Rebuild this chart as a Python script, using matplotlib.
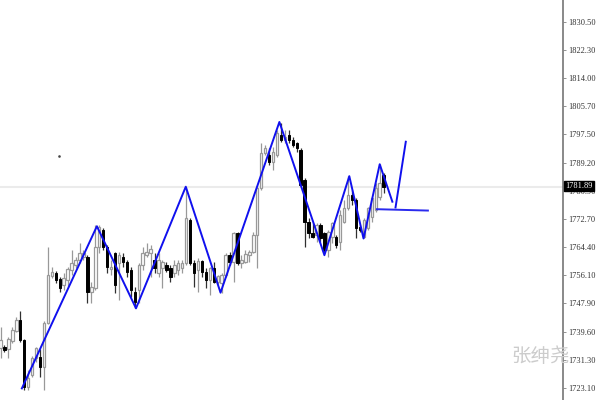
import matplotlib
matplotlib.use("Agg")
import matplotlib.pyplot as plt
import matplotlib.transforms as mtransforms
import numpy as np

# candle data (open, high, low, close)
opens = [1734.7, 1735.0, 1734.5, 1736.8, 1739.7, 1743.0, 1737.1, 1723.3, 1726.8, 1731.8,
         1732.1, 1729.2, 1742.1, 1755.9, 1756.7, 1755.0, 1753.2, 1754.7, 1757.6, 1759.1,
         1760.6, 1761.5, 1761.5, 1751.2, 1752.3, 1764.4, 1769.4, 1764.4, 1757.9, 1762.6,
         1759.7, 1761.5, 1760.0, 1757.6, 1751.2, 1751.8, 1759.1, 1762.0, 1762.6, 1760.6,
         1756.7, 1758.2, 1759.1, 1758.2, 1756.7, 1757.6, 1758.2, 1759.7, 1772.3, 1759.7,
         1757.6, 1760.3, 1757.0, 1754.7, 1758.2, 1754.1, 1753.8, 1756.2, 1762.0, 1760.0,
         1768.5, 1759.7, 1760.0, 1762.0, 1762.9, 1767.9, 1781.7, 1792.0, 1791.4, 1789.3,
         1791.4, 1797.2, 1795.8, 1797.2, 1795.8, 1794.9, 1792.8, 1784.0, 1771.7, 1768.5,
         1767.9, 1770.8, 1768.5, 1763.5, 1767.3, 1767.3, 1765.9, 1771.7, 1775.8, 1779.6,
         1778.2, 1770.2, 1767.3, 1769.9, 1773.2, 1775.3, 1779.1, 1785.5]
highs = [1740.9, 1735.6, 1738.0, 1740.9, 1743.8, 1745.6, 1737.4, 1728.3, 1732.4, 1735.0,
         1734.5, 1742.7, 1764.4, 1758.5, 1757.3, 1755.6, 1756.7, 1758.5, 1763.5, 1761.5,
         1765.6, 1763.5, 1762.0, 1754.1, 1770.8, 1770.8, 1769.9, 1765.0, 1760.6, 1763.0,
         1762.9, 1762.6, 1760.6, 1758.5, 1752.6, 1759.7, 1764.4, 1765.6, 1765.0, 1762.6,
         1762.6, 1760.6, 1760.0, 1759.1, 1760.6, 1760.6, 1760.6, 1782.0, 1772.9, 1760.6,
         1761.2, 1760.6, 1758.2, 1758.5, 1760.0, 1756.2, 1756.7, 1762.6, 1762.9, 1768.8,
         1768.8, 1762.0, 1763.5, 1763.5, 1768.8, 1782.0, 1794.9, 1794.3, 1793.4, 1793.7,
         1798.7, 1800.8, 1798.7, 1798.7, 1796.6, 1795.2, 1793.4, 1784.6, 1772.9, 1771.4,
         1771.4, 1771.4, 1768.8, 1769.4, 1771.7, 1767.9, 1775.3, 1778.2, 1785.3, 1781.1,
         1778.8, 1770.8, 1772.9, 1776.1, 1779.1, 1783.2, 1788.7, 1786.1]
lows = [1731.8, 1733.6, 1731.8, 1736.2, 1739.4, 1736.5, 1722.4, 1722.4, 1726.2, 1730.6,
        1726.2, 1722.4, 1741.8, 1755.3, 1753.8, 1751.2, 1751.8, 1752.6, 1756.2, 1758.2,
        1759.7, 1760.6, 1747.9, 1747.9, 1751.8, 1762.6, 1763.5, 1756.7, 1756.2, 1750.9,
        1748.8, 1758.5, 1755.6, 1749.7, 1746.6, 1747.9, 1757.6, 1761.5, 1755.6, 1756.7,
        1755.6, 1752.3, 1757.0, 1754.1, 1755.6, 1756.2, 1756.7, 1759.1, 1759.1, 1752.6,
        1751.2, 1755.6, 1752.3, 1750.3, 1753.8, 1753.5, 1751.0, 1755.6, 1759.1, 1754.1,
        1759.1, 1758.2, 1759.7, 1760.0, 1762.6, 1758.2, 1781.1, 1791.4, 1788.4, 1787.0,
        1790.8, 1795.2, 1794.9, 1794.9, 1793.7, 1792.3, 1782.0, 1764.4, 1767.0, 1767.0,
        1765.9, 1765.9, 1762.6, 1761.5, 1765.6, 1764.1, 1763.5, 1771.4, 1775.3, 1776.7,
        1767.0, 1768.8, 1767.0, 1769.4, 1771.7, 1774.7, 1778.2, 1780.2]
closes = [1737.1, 1734.2, 1737.4, 1740.0, 1743.0, 1737.1, 1723.3, 1725.9, 1731.8, 1734.7,
          1729.2, 1742.1, 1756.2, 1757.0, 1754.7, 1752.3, 1755.3, 1757.9, 1759.7, 1760.6,
          1762.6, 1762.6, 1751.2, 1752.6, 1764.4, 1770.2, 1764.4, 1758.5, 1758.5, 1753.2,
          1762.0, 1760.0, 1757.0, 1751.8, 1748.2, 1759.1, 1762.6, 1762.9, 1763.8, 1758.2,
          1760.6, 1760.0, 1757.6, 1755.6, 1759.1, 1759.7, 1759.7, 1772.9, 1759.7, 1756.7,
          1760.3, 1757.0, 1754.7, 1758.2, 1754.1, 1755.9, 1756.2, 1762.0, 1760.0, 1768.5,
          1759.7, 1760.6, 1762.3, 1762.9, 1767.9, 1781.7, 1792.0, 1793.4, 1789.3, 1792.3,
          1797.8, 1795.8, 1796.6, 1795.8, 1794.3, 1793.4, 1782.6, 1771.7, 1768.5, 1767.3,
          1770.8, 1767.0, 1763.5, 1768.8, 1771.4, 1765.0, 1773.8, 1775.8, 1779.6, 1778.2,
          1769.9, 1769.4, 1772.3, 1775.8, 1778.8, 1781.7, 1783.2, 1781.9]

# zigzag (bar index, price)
zz_idx = [5.4, 24.4, 34.3, 46.9, 55.7, 70.6, 82.0, 88.3, 91.9, 96.0, 99.2]
zz_price = [1722.9, 1770.5, 1746.4, 1782.1, 1751.0, 1801.1, 1762.0, 1785.2, 1766.9, 1788.7, 1777.7]
# hand drawn projection and support level
proj_idx = [100.0, 102.6]
proj_price = [1776.0, 1795.3]
lvl_idx = [95.3, 108.2]
lvl_price = [1775.5, 1775.1]

current_price = 1781.89
tick_vals = [1830.5, 1822.3, 1814.0, 1805.7, 1797.5, 1789.2, 1780.9,
             1772.7, 1764.4, 1756.1, 1747.9, 1739.6, 1731.3, 1723.1]
tick_labels = ['%.2f' % v for v in tick_vals]

fig = plt.figure(figsize=(6, 4), dpi=100)
ax = fig.add_axes([0, 0, 563 / 600, 1])
ax.set_xlim(-0.13, 142.4)
ax.set_ylim(1719.5, 1836.9)

# current price line
ax.axhline(current_price, color='#ebebeb', lw=1.5, zorder=1)

o = np.array(opens)
h = np.array(highs)
l = np.array(lows)
c = np.array(closes)
x = np.arange(len(o))
up = c >= o

ax.vlines(x[up], l[up], h[up], color='#999999', lw=0.9, zorder=2)
ax.vlines(x[~up], l[~up], h[~up], color='#303030', lw=0.9, zorder=2)
bottom = np.minimum(o, c)
height = np.maximum(np.abs(c - o), 0.35)
ax.bar(x[up], height[up], bottom=bottom[up], width=0.62, color='white',
       edgecolor='#999999', linewidth=0.9, zorder=3)
ax.bar(x[~up], height[~up], bottom=bottom[~up], width=0.62, color='black',
       edgecolor='black', linewidth=0.7, zorder=3)

# zigzag + drawings
ax.plot(zz_idx, zz_price, color='#1010ee', lw=1.4, zorder=4)
ax.plot(proj_idx, proj_price, color='#1010ee', lw=1.4, zorder=4)
ax.plot(lvl_idx, lvl_price, color='#2a2aee', lw=1.4, zorder=4)
ax.plot([14.9], [1791.1], marker='s', ms=0.8, color='#444444', zorder=4)

# right price scale
for s in ['left', 'top', 'bottom']:
    ax.spines[s].set_visible(False)
ax.spines['right'].set_color('#808080')
ax.spines['right'].set_linewidth(1.3)
ax.set_xticks([])
ax.yaxis.tick_right()
ax.set_yticks(tick_vals)
ax.set_yticklabels(tick_labels)
ax.tick_params(axis='y', length=2.5, width=0.6, color='#808080', pad=1.5,
               labelsize=6, labelcolor='#333333')
for t in ax.get_yticklabels():
    t.set_fontfamily('Liberation Serif')

trans = mtransforms.blended_transform_factory(ax.transAxes, ax.transData)
ax.text(1.004, current_price + 0.3, '%.2f' % current_price, transform=trans,
        fontsize=6, family='Liberation Serif', color='white', va='center', ha='left',
        bbox=dict(boxstyle='square,pad=0.12', fc='black', ec='black'), zorder=6,
        clip_on=False)

# watermark
fig.text(0.852, 0.108, '张绅尧', fontsize=14, color='#cccccc',
         family=['Noto Sans CJK SC', 'DejaVu Sans'], ha='left', va='center')

fig.savefig('out.png', dpi=100)
